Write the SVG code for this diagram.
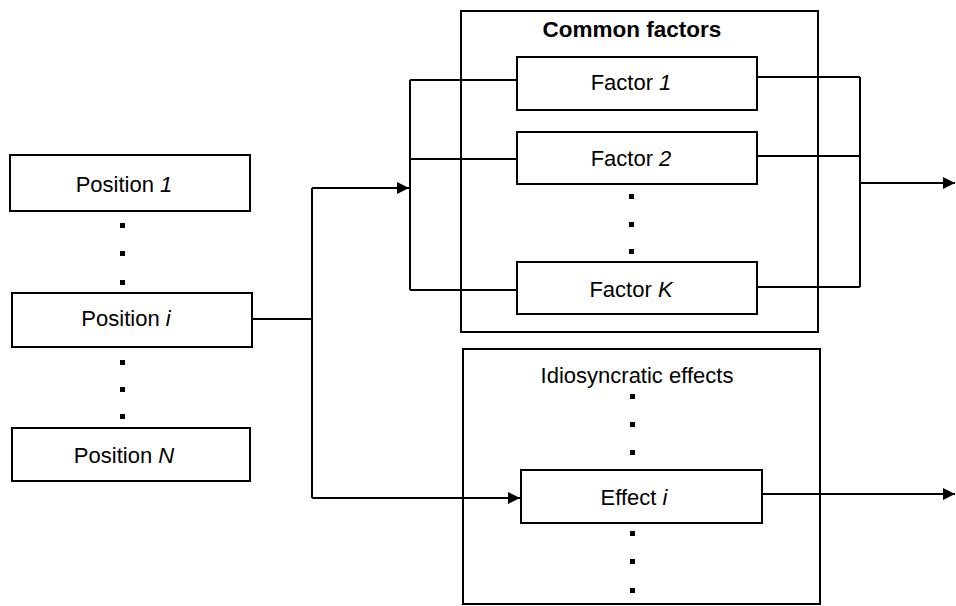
<svg xmlns="http://www.w3.org/2000/svg" width="956" height="606" viewBox="0 0 956 606">
<defs>
<style>
.box{fill:#fff;stroke:#000;stroke-width:2}
.frame{fill:none;stroke:#000;stroke-width:2}
.ln{fill:none;stroke:#000;stroke-width:2}
.t{font-family:"Liberation Sans",Arial,sans-serif;font-size:22px;fill:#000;text-anchor:middle}
.h{font-family:"Liberation Sans",Arial,sans-serif;font-size:22.5px;font-weight:bold;fill:#000;text-anchor:middle}
.d{fill:#000}
</style>
<marker id="arr" viewBox="0 0 12 12" refX="12" refY="6" markerWidth="12" markerHeight="12" markerUnits="userSpaceOnUse" orient="auto">
<path d="M0,0 L12,6 L0,12 Z" fill="#000"/>
</marker>
</defs>
<rect width="956" height="606" fill="#fff"/>

<g id="common-factors">
<rect class="frame" x="461" y="11" width="357" height="321"/>
<text class="h" x="632" y="37">Common factors</text>
</g>
<g id="idiosyncratic-effects">
<rect class="frame" x="463" y="349" width="357" height="255"/>
<text class="t" x="637" y="383" font-size="23">Idiosyncratic effects</text>
<rect class="d" x="630" y="394" width="5" height="5"/>
<rect class="d" x="630" y="422" width="5" height="5"/>
<rect class="d" x="630" y="450" width="5" height="5"/>
<rect class="d" x="630" y="531" width="5" height="5"/>
<rect class="d" x="630" y="559" width="5" height="5"/>
<rect class="d" x="630" y="588" width="5" height="5"/>
</g>

<g id="connectors">
<polyline class="ln" points="252,319 312,319"/>
<polyline class="ln" points="312,188 312,498"/>
<polyline class="ln" points="312,188 409,188" marker-end="url(#arr)"/>
<polyline class="ln" points="312,498 520,498" marker-end="url(#arr)"/>
<polyline class="ln" points="410,80 410,290"/>
<polyline class="ln" points="410,80 517,80"/>
<polyline class="ln" points="410,159 517,159"/>
<polyline class="ln" points="410,290 517,290"/>
<polyline class="ln" points="757,77 860,77"/>
<polyline class="ln" points="757,156 860,156"/>
<polyline class="ln" points="757,287 860,287"/>
<polyline class="ln" points="860,77 860,287"/>
<polyline class="ln" points="860,183 955,183" marker-end="url(#arr)"/>
<polyline class="ln" points="762,494 955,494" marker-end="url(#arr)"/>
</g>

<g id="position-1">
<rect class="box" x="10" y="155" width="240" height="56"/>
<text class="t" x="124" y="192">Position <tspan font-style="italic">1</tspan></text>
</g>
<g id="position-dots">
<rect class="d" x="120" y="223" width="5" height="5"/>
<rect class="d" x="120" y="251" width="5" height="5"/>
<rect class="d" x="120" y="280" width="5" height="5"/>
<rect class="d" x="120" y="360" width="5" height="5"/>
<rect class="d" x="120" y="387" width="5" height="5"/>
<rect class="d" x="120" y="414" width="5" height="5"/>
</g>
<g id="position-i">
<rect class="box" x="12" y="293" width="240" height="54"/>
<text class="t" x="126" y="326">Position <tspan font-style="italic">i</tspan></text>
</g>
<g id="position-n">
<rect class="box" x="12" y="428" width="238" height="53"/>
<text class="t" x="124" y="463">Position <tspan font-style="italic">N</tspan></text>
</g>

<g id="factor-1">
<rect class="box" x="517" y="57" width="240" height="53"/>
<text class="t" x="631" y="90">Factor <tspan font-style="italic">1</tspan></text>
</g>
<g id="factor-2">
<rect class="box" x="517" y="132" width="240" height="52"/>
<text class="t" x="631" y="166">Factor <tspan font-style="italic">2</tspan></text>
</g>
<g id="factor-dots">
<rect class="d" x="629" y="194" width="5" height="5"/>
<rect class="d" x="629" y="222" width="5" height="5"/>
<rect class="d" x="629" y="249" width="5" height="5"/>
</g>
<g id="factor-k">
<rect class="box" x="517" y="262" width="240" height="52"/>
<text class="t" x="631" y="297">Factor <tspan font-style="italic">K</tspan></text>
</g>
<g id="effect-i">
<rect class="box" x="521" y="470" width="241" height="53"/>
<text class="t" x="634" y="505">Effect <tspan font-style="italic">i</tspan></text>
</g>
</svg>
